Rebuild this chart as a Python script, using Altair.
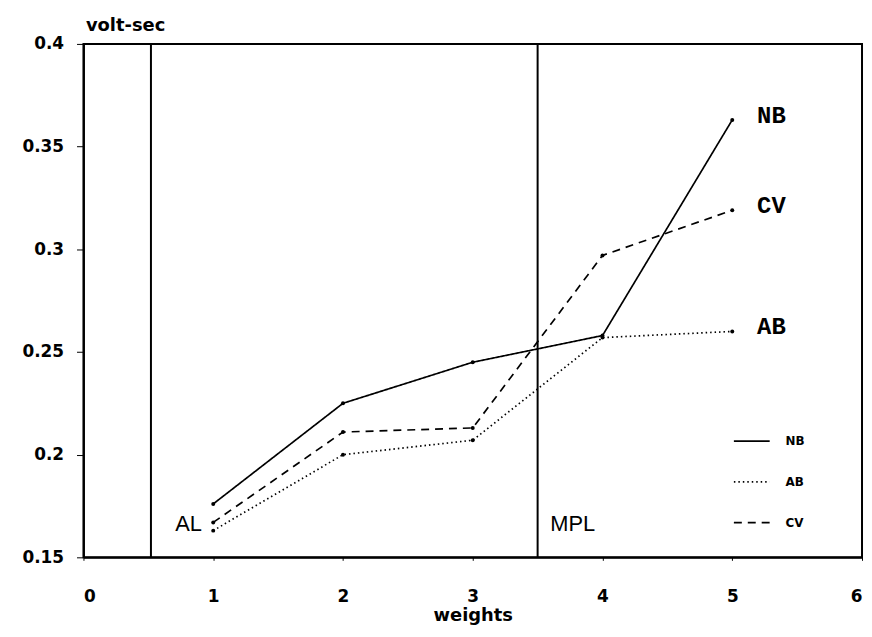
import altair as alt
import pandas as pd

weights = [1, 2, 3, 4, 5]
nb = [0.176, 0.225, 0.245, 0.258, 0.363]
ab = [0.163, 0.200, 0.207, 0.257, 0.260]
cv = [0.167, 0.211, 0.213, 0.297, 0.319]
series_names = ["NB", "AB", "CV"]
dashes = [[1, 0], [1.5, 3], [8, 6]]

vlines = [0.52, 3.5]
region_labels = ["AL", "MPL"]
region_x = [0.81, 3.77]
region_y = [0.166, 0.166]

rows = []
for name, vals in zip(series_names, [nb, ab, cv]):
    for w, v in zip(weights, vals):
        rows.append({"weight": w, "value": v, "series": name})
df = pd.DataFrame(rows)
end_df = df[df["weight"] == weights[-1]]

xscale = alt.Scale(domain=[0, 6], nice=False, zero=False)
yscale = alt.Scale(domain=[0.15, 0.4], nice=False, zero=False)

font = "Liberation Sans"
tfont = "DejaVu Sans"

x_axis = alt.Axis(values=[0, 1, 2, 3, 4, 5, 6], format="d", title="weights",
                  grid=False, tickSize=3, labelPadding=28, labelFontSize=17,
                  labelFont=tfont, labelFontWeight="bold", labelColor="black",
                  tickColor="black", domainColor="black", domainWidth=2,
                  titleFont=tfont, titleFontSize=18, titleFontWeight="bold",
                  titleY=64, titleBaseline="alphabetic")
y_axis = alt.Axis(values=[0.15, 0.2, 0.25, 0.3, 0.35, 0.4], format=".2~f",
                  title="volt-sec", grid=False, tickSize=7, labelPadding=13,
                  labelFontSize=17, labelFont=tfont, labelFontWeight="bold",
                  labelColor="black", tickColor="black", domainColor="black",
                  domainWidth=2,
                  titleFont=tfont, titleFontSize=18, titleFontWeight="bold",
                  titleAngle=0, titleX=2, titleY=-14, titleAlign="left",
                  titleBaseline="alphabetic")

lines = alt.Chart(df).mark_line(color="black", strokeWidth=1.7).encode(
    x=alt.X("weight:Q", scale=xscale, axis=x_axis),
    y=alt.Y("value:Q", scale=yscale, axis=y_axis),
    strokeDash=alt.StrokeDash(
        "series:N",
        scale=alt.Scale(domain=series_names, range=dashes),
        legend=alt.Legend(title=None, orient="none", legendX=654, legendY=381,
                          symbolType="stroke", symbolSize=1300,
                          symbolStrokeColor="black", symbolStrokeWidth=1.7,
                          labelFont=tfont, labelFontSize=12,
                          labelFontWeight="bold", labelOffset=15,
                          rowPadding=16),
    ),
    detail="series:N",
)

points = alt.Chart(df).mark_circle(color="black", size=16, opacity=1).encode(
    x="weight:Q", y="value:Q"
)

end_labels = alt.Chart(end_df).mark_text(
    align="left", baseline="middle", dx=25, dy=-4, font="Liberation Mono",
    fontSize=24, fontWeight="bold", color="black"
).encode(x="weight:Q", y="value:Q", text="series:N")

vl_df = pd.DataFrame({"x": vlines})
vrules = alt.Chart(vl_df).mark_rule(color="black", strokeWidth=2).encode(
    x="x:Q"
)

rl_df = pd.DataFrame({"label": region_labels, "x": region_x, "y": region_y})
region_text = alt.Chart(rl_df).mark_text(
    align="center", baseline="middle", font=font, fontSize=22, color="black"
).encode(x="x:Q", y="y:Q", text="label:N")

chart = alt.layer(vrules, lines, points, end_labels, region_text).properties(
    width=784, height=517,
    background="white",
    autosize=alt.AutoSizeParams(type="none"),
    padding={"left": 76, "top": 34, "right": 2, "bottom": 70},
).configure_view(stroke="black", strokeWidth=2)

chart.save("out.html", embed_options={"renderer": "svg", "actions": False})
